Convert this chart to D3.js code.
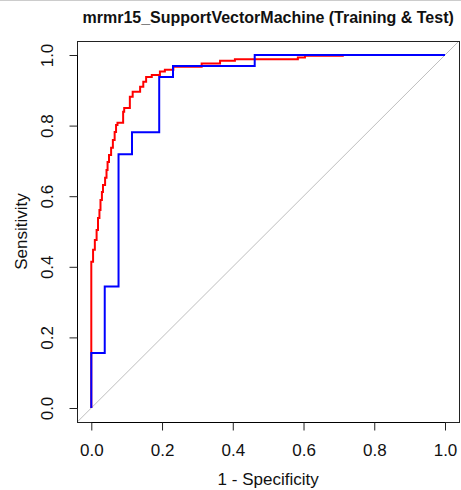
<!DOCTYPE html>
<html>
<head>
    <title>ROC curve</title>
    <script src="https://d3js.org/d3.v7.min.js"></script>
    <style>
        body {margin: 0; background: #ffffff;}
        svg {display: block; font-family: "Liberation Sans", Arial, sans-serif;}
    </style>
</head>
<body>
<script>
    // chart values
    const chartTitle = "mrmr15_SupportVectorMachine (Training & Test)";
    const xLabel = "1 - Specificity";
    const yLabel = "Sensitivity";
    const ticks = [0, 0.2, 0.4, 0.6, 0.8, 1.0];

    // training curve (red): corner points, 1 - specificity / sensitivity
    const trainFpr = [0, 0, 0.005, 0.010, 0.015, 0.019, 0.023, 0.026, 0.030, 0.033, 0.039, 0.043, 0.046,
        0.050, 0.056, 0.061, 0.066, 0.070, 0.074, 0.090, 0.093, 0.109, 0.117, 0.138, 0.147, 0.155,
        0.171, 0.194, 0.208, 0.232, 0.312, 0.364, 0.406, 0.584, 0.604, 0.711, 0.746, 1];
    const trainTpr = [0, 0.368, 0.414, 0.448, 0.476, 0.504, 0.538, 0.561, 0.589, 0.612, 0.632, 0.652, 0.674,
        0.697, 0.717, 0.737, 0.759, 0.782, 0.802, 0.808, 0.839, 0.850, 0.882, 0.896, 0.910, 0.924,
        0.938, 0.943, 0.953, 0.958, 0.967, 0.976, 0.984, 0.988, 0.993, 0.998, 1, 1];

    // test curve (blue)
    const testFpr = [0, 0.038, 0.077, 0.115, 0.192, 0.231, 0.462, 1];
    const testTpr = [0, 0.156, 0.344, 0.719, 0.781, 0.9375, 0.969, 1];

    const width = 461;
    const height = 490;

    const svg = d3.select("body")
        .append("svg")
        .attr("width", width)
        .attr("height", height);

    // R style axis ranges (4% padding)
    const x = d3.scaleLinear().domain([0, 1]).range([91.3, 445]);
    const y = d3.scaleLinear().domain([0, 1]).range([408, 55]);
    const x0 = x(-0.04), x1 = x(1.04), y0 = y(-0.04), y1 = y(1.04);

    // thin line at top of the screenshot
    svg.append("line")
        .attr("x1", 0).attr("x2", width)
        .attr("y1", 0.5).attr("y2", 0.5)
        .attr("stroke", "#cccccc");

    svg.append("defs").append("clipPath").attr("id", "plotclip")
        .append("rect")
        .attr("x", x0).attr("y", y1)
        .attr("width", x1 - x0).attr("height", y0 - y1);

    const plot = svg.append("g").attr("clip-path", "url(#plotclip)");

    // diagonal reference line
    plot.append("line")
        .attr("x1", x(-0.04)).attr("y1", y(-0.04))
        .attr("x2", x(1.04)).attr("y2", y(1.04))
        .attr("stroke", "#bebebe")
        .attr("stroke-width", 1);

    const line = d3.line()
        .x(d => x(d[0]))
        .y(d => y(d[1]))
        .curve(d3.curveStepBefore);

    plot.append("path")
        .datum(d3.zip(trainFpr, trainTpr))
        .attr("d", line)
        .attr("fill", "none")
        .attr("stroke", "#ff0000")
        .attr("stroke-width", 2);

    plot.append("path")
        .datum(d3.zip(testFpr, testTpr))
        .attr("d", line)
        .attr("fill", "none")
        .attr("stroke", "#0000ff")
        .attr("stroke-width", 2);

    // box
    svg.append("rect")
        .attr("x", Math.round(x0) + 0.5).attr("y", Math.round(y1) + 0.5)
        .attr("width", Math.round(x1 - x0)).attr("height", Math.round(y0 - y1))
        .attr("fill", "none")
        .attr("stroke", "#222222");

    // x axis
    const xAxis = svg.append("g").attr("transform", "translate(0," + (Math.round(y0) + 0.5) + ")")
        .call(d3.axisBottom(x).tickValues(ticks).tickFormat(d3.format(".1f")).tickSize(8).tickPadding(13))
        .style("font-family", null);
    xAxis.select(".domain")
        .attr("d", "M" + x(0) + ",0H" + x(1));
    xAxis.selectAll("line").attr("stroke", "#222222");
    xAxis.selectAll("text")
        .attr("fill", "#111111")
        .attr("font-size", 17);

    // y axis
    const yAxis = svg.append("g").attr("transform", "translate(" + (Math.round(x0) + 0.5) + ",0)")
        .call(d3.axisLeft(y).tickValues(ticks).tickFormat(d3.format(".1f")).tickSize(8))
        .style("font-family", null);
    yAxis.select(".domain")
        .attr("d", "M0," + y(0) + "V" + y(1));
    yAxis.selectAll("line").attr("stroke", "#222222");
    yAxis.selectAll("text")
        .attr("x", null).attr("dy", null)
        .attr("fill", "#111111")
        .attr("font-size", 17)
        .attr("text-anchor", "middle")
        .attr("transform", "translate(-25,0) rotate(-90)");

    // labels
    svg.append("text")
        .attr("x", x(0.5)).attr("y", 485)
        .attr("text-anchor", "middle")
        .attr("font-size", 17)
        .attr("fill", "#111111")
        .text(xLabel);

    svg.append("text")
        .attr("transform", "translate(27," + y(0.5) + ") rotate(-90)")
        .attr("text-anchor", "middle")
        .attr("font-size", 17)
        .attr("fill", "#111111")
        .text(yLabel);

    svg.append("text")
        .attr("x", (x0 + x1) / 2).attr("y", 23)
        .attr("text-anchor", "middle")
        .attr("font-size", 16)
        .attr("font-weight", "bold")
        .attr("fill", "#111111")
        .text(chartTitle);
</script>
</body>
</html>
